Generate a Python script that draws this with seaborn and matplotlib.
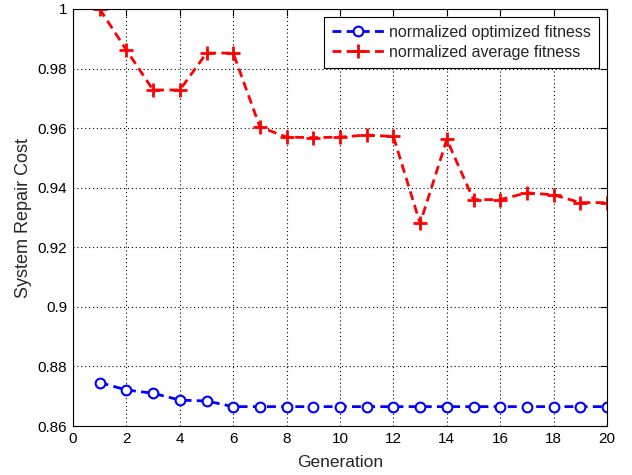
import matplotlib
matplotlib.use("Agg")
import matplotlib.pyplot as plt
import seaborn as sns
import pandas as pd

generations = list(range(1, 21))
optimized = [0.8746, 0.8721, 0.8710, 0.8687, 0.8684, 0.8665, 0.8665, 0.8665, 0.8665, 0.8665,
             0.8665, 0.8665, 0.8665, 0.8665, 0.8665, 0.8665, 0.8665, 0.8665, 0.8665, 0.8665]
average = [1.0, 0.9862, 0.9728, 0.9728, 0.9852, 0.9852, 0.9604, 0.9570, 0.9568, 0.9570,
           0.9577, 0.9572, 0.9280, 0.9562, 0.9360, 0.9360, 0.9383, 0.9376, 0.9350, 0.9350]
xticks = list(range(0, 21, 2))
yticks = [0.86, 0.88, 0.9, 0.92, 0.94, 0.96, 0.98, 1.0]
ytick_labels = ["0.86", "0.88", "0.9", "0.92", "0.94", "0.96", "0.98", "1"]

sns.set_style("white")
plt.rcParams['font.family'] = ['Liberation Sans', 'DejaVu Sans']

df = pd.DataFrame({"Generation": generations, "opt": optimized, "avg": average})

fig = plt.figure(figsize=(6.32, 4.75), dpi=100)
ax = fig.add_axes([73/632, 1-426/475, (607-73)/632, (426-9)/475])

sns.lineplot(data=df, x="Generation", y="opt", ax=ax, color="#0000ff",
             linewidth=2, marker="o", markersize=7, markerfacecolor="white",
             markeredgecolor="#0000ff", markeredgewidth=1.5, legend=False)
l_opt = ax.lines[-1]
sns.lineplot(data=df, x="Generation", y="avg", ax=ax, color="#ff0000",
             linewidth=2, marker="+", markersize=10, markeredgewidth=2,
             markeredgecolor="#ff0000", legend=False)
l_avg = ax.lines[-1]
for ln in (l_opt, l_avg):
    ln.set_linestyle((0, (3.2, 1.9)))

ax.set_xlim(0, 20)
ax.set_ylim(0.86, 1.0)
ax.set_xticks(xticks)
ax.set_yticks(yticks)
ax.set_yticklabels(ytick_labels)
ax.grid(True, color="black", linestyle=(0, (1, 2.5)), linewidth=0.8)
ax.tick_params(direction="in", top=True, right=True, length=5, labelsize=11,
               colors="black", width=0.8, pad=4)
for s in ax.spines.values():
    s.set_color("black")
    s.set_linewidth(0.8)
ax.set_xlabel("Generation", fontsize=12.5, labelpad=7)
ax.set_ylabel("System Repair Cost", fontsize=13, labelpad=4)

leg = ax.legend([l_opt, l_avg], ["normalized optimized fitness", "normalized average fitness"],
                loc="upper right", fontsize=11.5, frameon=True, fancybox=False,
                edgecolor="black", framealpha=1, borderaxespad=0.5, handlelength=3.2,
                borderpad=0.5, labelspacing=0.3, handletextpad=0.35)
leg.get_frame().set_linewidth(0.8)

fig.savefig("out.png", dpi=100)
